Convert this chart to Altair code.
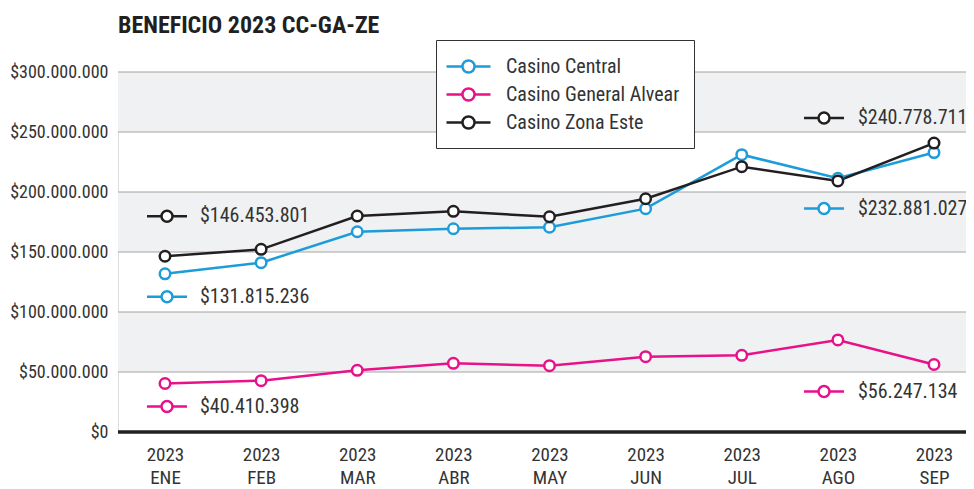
import altair as alt
import pandas as pd

# ---------------- data ----------------
months = ["ENE", "FEB", "MAR", "ABR", "MAY", "JUN", "JUL", "AGO", "SEP"]
year_label = "2023"
series_names = ["Casino Central", "Casino General Alvear", "Casino Zona Este"]
central = [131815236, 141100000, 166900000, 169400000, 170600000, 186100000, 231100000, 211400000, 232881027]
alvear = [40410398, 42800000, 51400000, 57200000, 55300000, 62800000, 63900000, 76700000, 56247134]
zona_este = [146453801, 152200000, 180000000, 183900000, 179400000, 194400000, 221100000, 209200000, 240778711]
y_ticks = [0, 50000000, 100000000, 150000000, 200000000, 250000000, 300000000]
band_low = [50000000, 150000000, 250000000]
band_high = [100000000, 200000000, 300000000]
title_text = "BENEFICIO 2023 CC-GA-ZE"

# ---------------- styles ----------------
colors = ["#1c9cd8", "#e8118a", "#231f20"]
FONT = "Liberation Sans Narrow, Roboto Condensed, DejaVu Sans Condensed, Roboto, sans-serif"
TEXT_COLOR = "#333333"
# line with an open circle; drawn at scale sqrt(size)/2, path spans [-2, 2]
SYMBOL = "M-2,0H-0.55M0.55,0H2M0.55,0A0.55,0.55,0,1,1,-0.55,0A0.55,0.55,0,1,1,0.55,0Z"
# (series, month, symbol x shift, text x shift, vertical shift)
label_layout = [
    ("Casino Zona Este", "ENE", 2, 35, -40),
    ("Casino Central", "ENE", 2, 35, 23),
    ("Casino General Alvear", "ENE", 2, 35, 23),
    ("Casino Zona Este", "SEP", -110, -76, -25),
    ("Casino Central", "SEP", -110, -76, 56),
    ("Casino General Alvear", "SEP", -110, -76, 27),
]

rows = []
for name, vals in zip(series_names, [central, alvear, zona_este]):
    for m, v in zip(months, vals):
        rows.append({"mes": m, "serie": name, "valor": v})
df = pd.DataFrame(rows)

x_scale = alt.Scale(type="point", domain=months, range=[47, 816], padding=0)
y_scale = alt.Scale(domain=[0, 300000000], nice=False, zero=True)
color_scale = alt.Scale(domain=series_names, range=colors)

y_axis = alt.Axis(
    title=None,
    values=y_ticks,
    format="$,.0f",
    labelFont=FONT,
    labelFontSize=18,
    labelColor=TEXT_COLOR,
    labelPadding=10,
    ticks=False,
    domain=False,
    grid=False,
)
x_axis = alt.Axis(
    title=None,
    labelExpr="['" + year_label + "', datum.label]",
    labelFont=FONT,
    labelFontSize=19,
    labelColor=TEXT_COLOR,
    labelLineHeight=23,
    labelPadding=13,
    labelAngle=0,
    ticks=False,
    grid=False,
    domain=False,
)

bands = alt.Chart(pd.DataFrame({"lo": band_low, "hi": band_high})).mark_rect(
    color="#f0f1f3"
).encode(
    y=alt.Y("lo:Q", scale=y_scale, axis=y_axis),
    y2="hi:Q",
)

grid = alt.Chart(pd.DataFrame({"v": y_ticks[1:]})).mark_rule(
    color="#a3a3a3", strokeWidth=1
).encode(y=alt.Y("v:Q", scale=y_scale, axis=y_axis))

baseline = alt.Chart(pd.DataFrame({"v": y_ticks[:1]})).mark_rule(
    color="#231f20", strokeWidth=3.5
).encode(y=alt.Y("v:Q", scale=y_scale, axis=y_axis))

base = alt.Chart(df).encode(
    x=alt.X("mes:N", scale=x_scale, sort=months, axis=x_axis),
    y=alt.Y("valor:Q", scale=y_scale, axis=y_axis),
    color=alt.Color(
        "serie:N",
        scale=color_scale,
        legend=alt.Legend(
            title=None,
            orient="none",
            legendX=318,
            legendY=-32,
            symbolType=SYMBOL,
            symbolSize=484,
            symbolStrokeWidth=2.5,
            symbolFillColor="white",
            symbolOffset=6,
            labelFont=FONT,
            labelFontSize=20,
            labelColor=TEXT_COLOR,
            labelOffset=25,
            labelLimit=400,
            rowPadding=4,
            padding=14,
            fillColor="white",
            strokeColor="#333333",
        ),
    ),
)

lines = base.mark_line(strokeWidth=2.5)
points = base.mark_point(shape="circle", filled=False, fill="white", size=110, strokeWidth=2.5, opacity=1)

layers = [bands, grid, lines, points]
for serie, mes, sx, tx, dy in label_layout:
    sub = alt.Chart(df).transform_filter(
        (alt.datum.serie == serie) & (alt.datum.mes == mes)
    ).encode(
        x=alt.X("mes:N", scale=x_scale, sort=months, axis=x_axis),
        y=alt.Y("valor:Q", scale=y_scale, axis=y_axis),
    )
    sym = sub.mark_point(
        shape=SYMBOL, size=400, filled=False, fill="white", strokeWidth=2.5, opacity=1,
        xOffset=sx, yOffset=dy,
    ).encode(color=alt.Color("serie:N", scale=color_scale, legend=None))
    txt = sub.mark_text(
        align="left", baseline="middle", dx=tx, dy=dy, font=FONT, fontSize=20, color=TEXT_COLOR
    ).encode(text=alt.Text("valor:Q", format="$,.0f"))
    layers += [sym, txt]
layers.append(baseline)

chart = alt.layer(*layers).properties(
    width=848,
    height=360,
    autosize=alt.AutoSizeParams(type="none"),
    padding={"left": 110, "top": 64, "right": 0, "bottom": 57},
    title=alt.TitleParams(
        title_text,
        anchor="start",
        frame="group",
        font=FONT,
        fontSize=24,
        fontWeight="bold",
        color="#231f20",
        baseline="bottom",
        offset=-22,
    ),
).configure_view(stroke=None).configure(background="white")

chart.save(
    "out.html",
    embed_options={
        "renderer": "svg",
        "actions": False,
        "formatLocale": {"decimal": ",", "thousands": ".", "grouping": [3], "currency": ["$", ""]},
    },
)
